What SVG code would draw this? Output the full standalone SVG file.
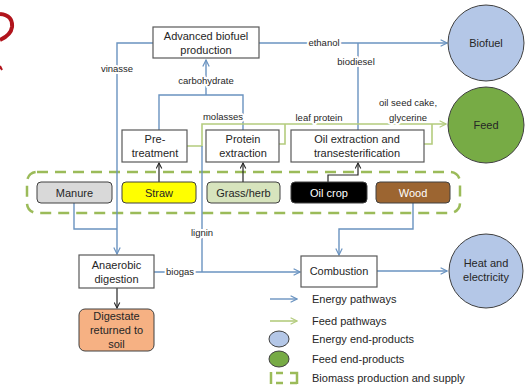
<svg xmlns="http://www.w3.org/2000/svg" width="530" height="386" viewBox="0 0 530 386">
<defs>
<style>
.box{fill:#fff;stroke:#595959;stroke-width:1.2}
.bm{stroke:#404040;stroke-width:1}
.t{font-family:"Liberation Sans",Arial,sans-serif;font-size:11px;fill:#262626;text-anchor:middle}
.lb{font-family:"Liberation Sans",Arial,sans-serif;font-size:9.5px;fill:#262626;text-anchor:middle;stroke:#fff;stroke-width:4;paint-order:stroke;stroke-linejoin:round}
.lg{font-family:"Liberation Sans",Arial,sans-serif;font-size:11px;fill:#262626}
.e{fill:none;stroke:#6a93c0;stroke-width:1.4}
.f{fill:none;stroke:#b4cc7e;stroke-width:1.6}
.k{fill:none;stroke:#262626;stroke-width:1.2}
</style>
<marker id="ab" viewBox="0 0 10 10" refX="9" refY="5" markerWidth="8" markerHeight="8" orient="auto" markerUnits="userSpaceOnUse"><path d="M1,1 L9,5 L1,9" fill="none" stroke="#6a93c0" stroke-width="1.5"/></marker>
<marker id="ag" viewBox="0 0 10 10" refX="9" refY="5" markerWidth="8" markerHeight="8" orient="auto" markerUnits="userSpaceOnUse"><path d="M1,1 L9,5 L1,9" fill="none" stroke="#b4cc7e" stroke-width="1.5"/></marker>
<marker id="ak" viewBox="0 0 10 10" refX="9" refY="5" markerWidth="7" markerHeight="7" orient="auto" markerUnits="userSpaceOnUse"><path d="M1,1 L9,5 L1,9" fill="none" stroke="#262626" stroke-width="1.5"/></marker>
</defs>
<rect width="530" height="386" fill="#fff"/>
<!-- partial red logo -->
<path d="M0,14 Q13,15 12,27 Q11,35 0,40" fill="none" stroke="#b1141c" stroke-width="4"/>
<path d="M0,66 L2,70" fill="none" stroke="#b1141c" stroke-width="2"/>

<!-- biomass supply dashed frame -->
<rect id="supply" x="27" y="172" width="433" height="41" rx="10" fill="none" stroke="#9bbb59" stroke-width="2.5" stroke-dasharray="11,7"/>

<g id="connectors">
<path class="e" d="M153,43 H117 V254" marker-end="url(#ab)"/>
<path class="e" d="M74,203 V229 H117"/>
<path class="e" d="M259,43 H447" marker-end="url(#ab)"/>
<path class="e" d="M358,43 V130"/>
<path class="e" d="M159,130 V95 H243 V130"/>
<path class="e" d="M206,95 V60" marker-end="url(#ab)"/>
<path class="f" d="M187,146 H202 V124 H446" marker-end="url(#ag)"/>
<path class="f" d="M279,144 H285 V124"/>
<path class="f" d="M424,144 H432 V124"/>
<path class="e" d="M202,146 V272"/>
<path class="e" d="M154,272 H300" marker-end="url(#ab)"/>
<path class="e" d="M413,203 V229 H339 V255" marker-end="url(#ab)"/>
<path class="e" d="M377,271 H447" marker-end="url(#ab)"/>
<path class="k" d="M159,182 V163" marker-end="url(#ak)"/>
<path class="k" d="M243,182 V163" marker-end="url(#ak)"/>
<path class="k" d="M328,182 V175 H358 V163" marker-end="url(#ak)"/>
<path class="k" d="M117,288 V308" marker-end="url(#ak)"/>
<text class="lb" x="117" y="72">vinasse</text>
<text class="lb" x="206" y="84">carbohydrate</text>
<text class="lb" x="324" y="46">ethanol</text>
<text class="lb" x="356" y="65">biodiesel</text>
<text class="lb" x="223" y="120">molasses</text>
<text class="lb" x="319" y="121">leaf protein</text>
<text class="lb" x="408" y="106">oil seed cake,</text>
<text class="lb" x="408" y="121">glycerine</text>
<text class="lb" x="202" y="236">lignin</text>
<text class="lb" x="180" y="275">biogas</text>
</g>

<g id="advanced"><rect class="box" x="153" y="27" width="106" height="31"/><text class="t" x="206" y="40">Advanced biofuel</text><text class="t" x="206" y="54">production</text></g>
<g id="pretreatment"><rect class="box" x="122" y="130" width="65" height="32"/><text class="t" x="155" y="143">Pre-</text><text class="t" x="155" y="157">treatment</text></g>
<g id="protein"><rect class="box" x="206" y="130" width="73" height="32"/><text class="t" x="243" y="143">Protein</text><text class="t" x="243" y="157">extraction</text></g>
<g id="oilext"><rect class="box" x="291" y="130" width="133" height="32"/><text class="t" x="357" y="143">Oil extraction and</text><text class="t" x="357" y="157">transesterification</text></g>

<g id="manure"><rect class="bm" x="37" y="182" width="75" height="21" rx="4" fill="#d9d9d9"/><text class="t" x="74.5" y="196.5">Manure</text></g>
<g id="straw"><rect class="bm" x="122" y="182" width="74" height="21" rx="4" fill="#ffff00"/><text class="t" x="159" y="196.5">Straw</text></g>
<g id="grass"><rect class="bm" x="207" y="182" width="73" height="21" rx="4" fill="#d7e4bd"/><text class="t" x="243.5" y="196.5">Grass/herb</text></g>
<g id="oilcrop"><rect class="bm" x="291" y="182" width="76" height="21" rx="4" fill="#000"/><text class="t" x="329" y="196.5" style="fill:#fff">Oil crop</text></g>
<g id="wood"><rect class="bm" x="376" y="182" width="74" height="21" rx="4" fill="#9c6531"/><text class="t" x="413" y="196.5" style="fill:#fff">Wood</text></g>

<g id="anaerobic"><rect class="box" x="79" y="255" width="75" height="33"/><text class="t" x="116.5" y="268.5">Anaerobic</text><text class="t" x="116.5" y="282.5">digestion</text></g>
<g id="digestate"><rect class="bm" x="79" y="309" width="75" height="42" rx="6" fill="#f6b183"/><text class="t" x="116.5" y="320">Digestate</text><text class="t" x="116.5" y="334">returned to</text><text class="t" x="116.5" y="348">soil</text></g>
<g id="combustion"><rect class="box" x="301" y="256" width="76" height="31"/><text class="t" x="339" y="275">Combustion</text></g>

<g id="biofuel"><circle cx="486" cy="43" r="38" fill="#b4c7e7" stroke="#404040"/><text class="t" x="486" y="47">Biofuel</text></g>
<g id="feed"><circle cx="486" cy="125" r="38" fill="#77ab45" stroke="#404040"/><text class="t" x="486" y="129">Feed</text></g>
<g id="heat"><circle cx="486" cy="271" r="37" fill="#b4c7e7" stroke="#404040"/><text class="t" x="486" y="267">Heat and</text><text class="t" x="486" y="281">electricity</text></g>

<g id="legend">
<path class="e" d="M270,299 H297" marker-end="url(#ab)"/>
<text class="lg" x="312" y="303">Energy pathways</text>
<path class="f" d="M270,321 H297" marker-end="url(#ag)"/>
<text class="lg" x="312" y="325">Feed pathways</text>
<ellipse cx="279" cy="339" rx="10" ry="8" fill="#b4c7e7" stroke="#404040"/>
<text class="lg" x="312" y="343">Energy end-products</text>
<ellipse cx="279" cy="359" rx="10" ry="8" fill="#77ab45" stroke="#404040"/>
<text class="lg" x="312" y="363">Feed end-products</text>
<path d="M271,372 V384 M276,373 H283 M290,373 H297 V384 M276,383 H283 M290,383 H297" fill="none" stroke="#9bbb59" stroke-width="2.5"/>
<text class="lg" x="312" y="382">Biomass production and supply</text>
</g>
</svg>
